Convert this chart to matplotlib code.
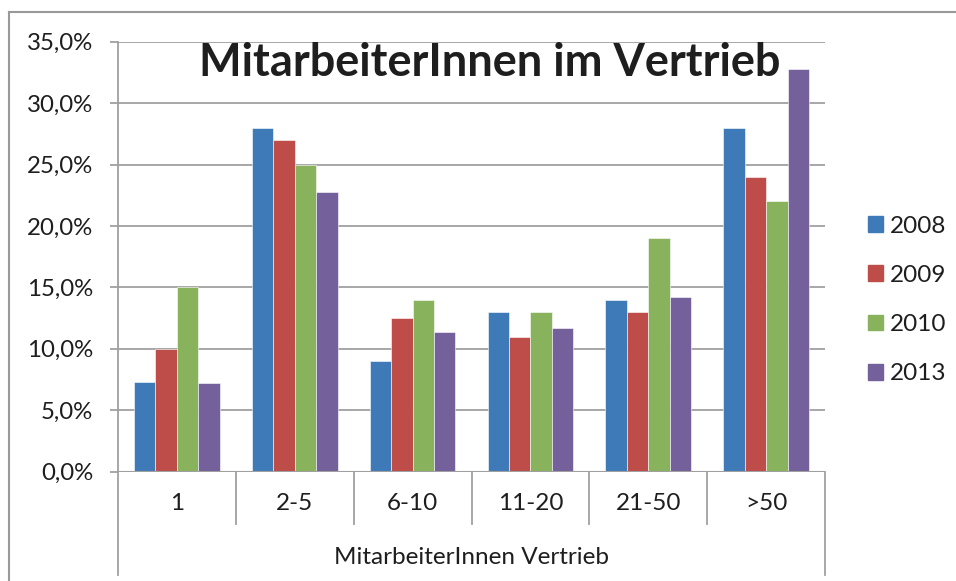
import matplotlib.pyplot as plt
from matplotlib.ticker import FuncFormatter, MultipleLocator
from matplotlib.lines import Line2D
from matplotlib.patches import Patch
import matplotlib.transforms as mtransforms
import numpy as np

plt.rcParams['font.family'] = ['Lato', 'DejaVu Sans']

# Daten
kategorien = ["1", "2-5", "6-10", "11-20", "21-50", ">50"]
jahre = ["2008", "2009", "2010", "2013"]
werte_2008 = [7.3, 28.0, 9.0, 13.0, 14.0, 28.0]
werte_2009 = [10.0, 27.0, 12.5, 11.0, 13.0, 24.0]
werte_2010 = [15.0, 25.0, 14.0, 13.0, 19.0, 22.0]
werte_2013 = [7.2, 22.8, 11.4, 11.7, 14.2, 32.8]
farben = ["#3F7AB8", "#BE4D4A", "#88B35C", "#74609A"]

serien = [werte_2008, werte_2009, werte_2010, werte_2013]

fig = plt.figure(figsize=(9.56, 5.81), dpi=100)
ax = fig.add_axes([118 / 956, 1 - 471.7 / 581, 707 / 956, 430 / 581])

x = np.arange(len(kategorien))
breite = 1 / 5.5
for i, (werte, farbe) in enumerate(zip(serien, farben)):
    ax.bar(x + (i - 1.5) * breite, werte, breite, color=farbe,
           edgecolor="white", linewidth=0.4, label=jahre[i], zorder=3)

grau = "#A0A0A0"
text_farbe = "#1E1E1E"
ax.set_xlim(-0.5, len(kategorien) - 0.5)
ax.set_ylim(0, 35)
ax.yaxis.set_major_locator(MultipleLocator(5))
ax.yaxis.set_major_formatter(FuncFormatter(lambda v, p: f"{v:.1f}%".replace(".", ",")))
ax.grid(axis="y", color=grau, linewidth=1.3, zorder=0)
ax.tick_params(axis="y", length=6, width=1.3, color=grau, pad=12, labelsize=17.3,
               labelcolor=text_farbe)
ax.set_xticks(x)
ax.set_xticklabels(kategorien)
ax.tick_params(axis="x", length=0, pad=15, labelsize=17.5, labelcolor=text_farbe)

for s in ["top", "right", "bottom"]:
    ax.spines[s].set_visible(False)
ax.spines["left"].set_color(grau)
ax.spines["left"].set_linewidth(1.3)
ax.axhline(0, color=grau, linewidth=1.5, zorder=4)

# Kategorie-Trennlinien unter der Achse
trans = mtransforms.blended_transform_factory(ax.transData, ax.transAxes)
for xs in np.arange(0.5, len(kategorien) - 0.5, 1):
    ax.add_line(Line2D([xs, xs], [0, -52 / 430], transform=trans, color=grau,
                       linewidth=1.3, clip_on=False))
for xs in [-0.5, len(kategorien) - 0.5]:
    ax.add_line(Line2D([xs, xs], [0, -103 / 430], transform=trans, color=grau,
                       linewidth=1.3, clip_on=False))

ax.set_xlabel("MitarbeiterInnen Vertrieb", fontsize=17.5, color=text_farbe)
ax.xaxis.set_label_coords(0.5, -(557 - 471.7) / 430)
ax.xaxis.label.set_va("center")

ax.text(0.526, 0.95, "MitarbeiterInnen im Vertrieb", transform=ax.transAxes,
        ha="center", va="center", fontsize=32.5, fontweight="bold", color=text_farbe)

handles = [Patch(color=f) for f in farben]
fig.legend(handles, jahre, loc="center left", bbox_to_anchor=(868 / 956, 1 - 300 / 581),
           frameon=False, fontsize=17.5, borderpad=0, borderaxespad=0,
           handlelength=0.62, handleheight=0.62, handletextpad=0.3, labelspacing=1.16,
           labelcolor=text_farbe)

# äußerer Rahmen
fig.add_artist(Line2D([9 / 956, 9 / 956], [0, 1 - 12 / 581], transform=fig.transFigure,
                      color="#999999", linewidth=1.5))
fig.add_artist(Line2D([9 / 956, 1], [1 - 12 / 581, 1 - 12 / 581], transform=fig.transFigure,
                      color="#999999", linewidth=1.5))

fig.savefig("out.png", dpi=100)
